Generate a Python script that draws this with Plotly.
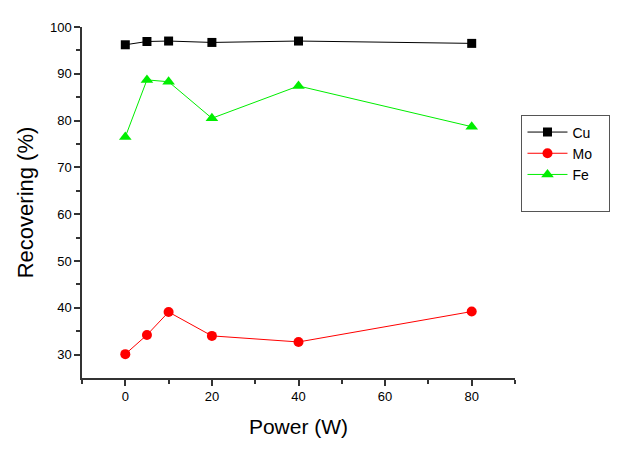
import plotly.graph_objects as go

power = [0, 5, 10, 20, 40, 80]
cu = [96.2, 96.9, 97.0, 96.7, 97.0, 96.5]
mo = [30.1, 34.2, 39.1, 34.0, 32.7, 39.2]
fe = [76.5, 88.7, 88.3, 80.5, 87.4, 78.7]

x_ticks = [0, 20, 40, 60, 80]
y_ticks = [30, 40, 50, 60, 70, 80, 90, 100]

fig = go.Figure()
fig.add_trace(go.Scatter(x=power, y=cu, name="Cu   ", mode="lines+markers",
                         line=dict(color="black", width=1),
                         marker=dict(symbol="square", size=9, color="black")))
fig.add_trace(go.Scatter(x=power, y=mo, name="Mo   ", mode="lines+markers",
                         line=dict(color="#ff0000", width=1),
                         marker=dict(symbol="circle", size=10, color="#ff0000")))
fig.add_trace(go.Scatter(x=power, y=fe, name="Fe   ", mode="lines+markers",
                         line=dict(color="#00ee00", width=1),
                         marker=dict(symbol="triangle-up", size=11, color="#00ee00")))
fig.add_trace(go.Scatter(x=[None], y=[None], name=" ", mode="lines",
                         line=dict(color="rgba(0,0,0,0)", width=0), hoverinfo="skip"))

axis_font = dict(family="Liberation Sans, Arial", size=13, color="black")
fig.update_layout(
    width=620, height=458,
    margin=dict(l=82, r=105, t=27, b=80, autoexpand=False),
    paper_bgcolor="white", plot_bgcolor="white",
    font=dict(family="Liberation Sans, Arial", color="black"),
    showlegend=True,
    legend=dict(x=1.015, y=0.748, xanchor="left", yanchor="top",
                bordercolor="#555", borderwidth=1, bgcolor="white",
                font=dict(size=14), tracegroupgap=0, itemwidth=40),
    xaxis=dict(range=[-10, 90], tickvals=x_ticks, ticks="outside", ticklen=6,
               tickwidth=1.5, tickcolor="#333", showline=True, linecolor="#333",
               linewidth=1.5, showgrid=False, zeroline=False, tickfont=axis_font,
               title=dict(text="Power (W)", font=dict(size=21), standoff=16),
               minor=dict(tickvals=[-10, 10, 30, 50, 70, 90], ticks="outside",
                          ticklen=4, tickwidth=1.5, tickcolor="#333")),
    yaxis=dict(range=[25, 100], tickvals=y_ticks, ticks="outside", ticklen=6,
               tickwidth=1.5, tickcolor="#333", showline=True, linecolor="#333",
               linewidth=1.5, showgrid=False, zeroline=False, tickfont=axis_font,
               title=dict(text="Recovering (%)", font=dict(size=22), standoff=10),
               minor=dict(tickvals=[35, 45, 55, 65, 75, 85, 95], ticks="outside",
                          ticklen=4, tickwidth=1.5, tickcolor="#333")),
)

fig.write_html("out.html")
